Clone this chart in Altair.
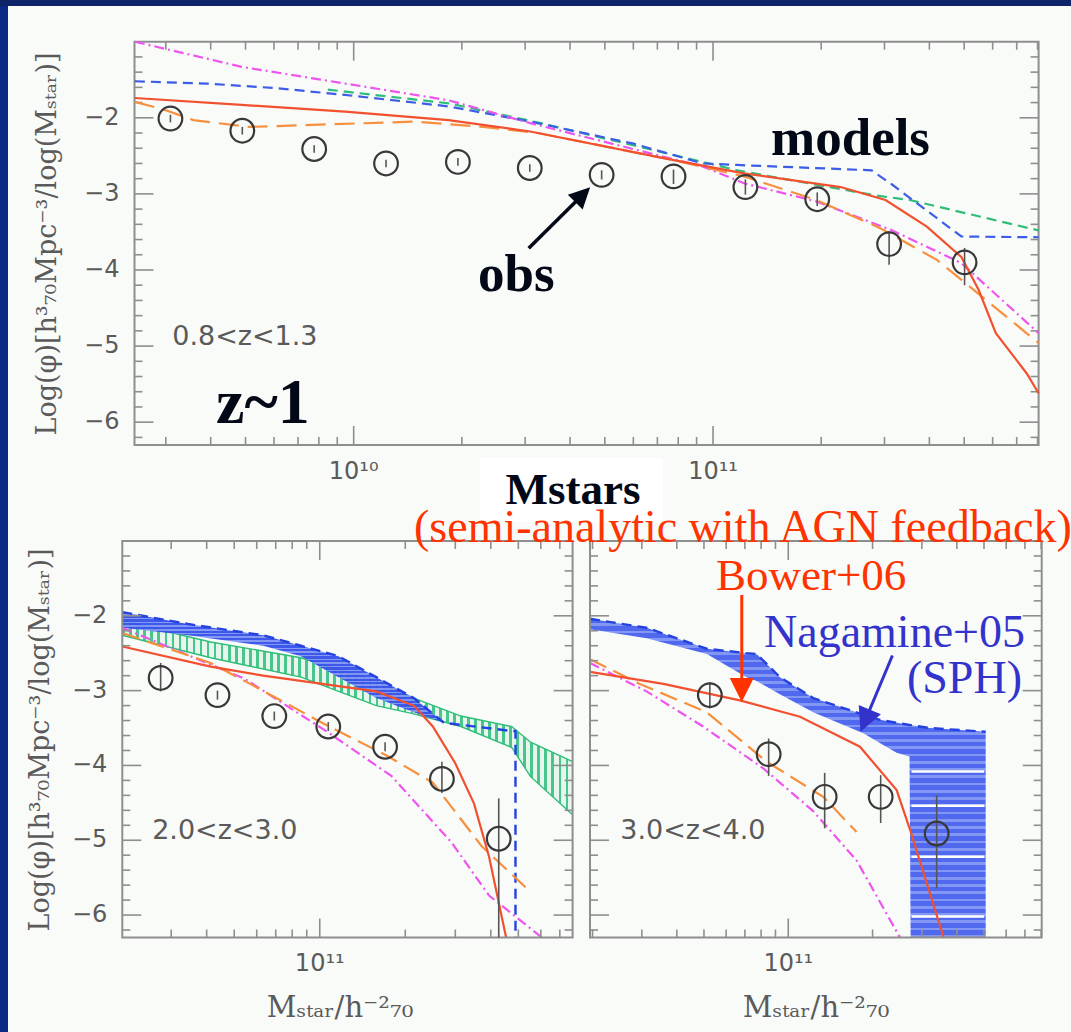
import math
import numpy as np
import pandas as pd
import altair as alt

W, H = 1071, 1032
BG = "#f9fbf9"
AXC = "#8e8e8e"      # frame / tick colour
LBL = "#5a5a5a"      # tick-label colour

RED, ORANGE, MAGENTA = "#f2502f", "#f7903d", "#ee55ee"
BLUE, GREEN = "#3d5ce8", "#2fbd78"

# ---------------- observed mass functions (log M, log phi, error range) -------------
obs_top_m = [9.49, 9.69, 9.89, 10.09, 10.29, 10.49, 10.69, 10.89, 11.09, 11.29, 11.49, 11.70]
obs_top_v = [-2.01, -2.17, -2.41, -2.60, -2.58, -2.66, -2.75, -2.77, -2.91, -3.07, -3.66, -3.90]
obs_top_lo = [-2.06, -2.22, -2.46, -2.65, -2.63, -2.71, -2.81, -2.87, -3.01, -3.16, -3.93, -4.20]
obs_top_hi = [-1.96, -2.12, -2.36, -2.55, -2.53, -2.61, -2.69, -2.68, -2.81, -2.98, -3.49, -3.71]

obs_bl_m = [10.44, 10.64, 10.84, 11.03, 11.23, 11.43, 11.63]
obs_bl_v = [-2.83, -3.06, -3.34, -3.48, -3.75, -4.18, -4.98]
obs_bl_lo = [-3.01, -3.12, -3.40, -3.54, -3.81, -4.37, -6.30]
obs_bl_hi = [-2.63, -3.00, -3.28, -3.42, -3.69, -3.95, -4.44]

obs_br_m = [10.72, 10.93, 11.13, 11.33, 11.53]
obs_br_v = [-3.06, -3.85, -4.42, -4.42, -4.91]
obs_br_lo = [-3.24, -4.14, -4.84, -4.77, -5.64]
obs_br_hi = [-2.89, -3.64, -4.10, -4.13, -4.40]

# ---------------- model curves, 0.8<z<1.3 ----------------
red_top_m = [9.391, 9.688, 9.976, 10.264, 10.491, 10.894, 11.086, 11.355, 11.480, 11.595, 11.691, 11.739, 11.787, 11.873, 11.906]
red_top_v = [-1.74, -1.83, -1.92, -2.03, -2.18, -2.56, -2.73, -2.91, -3.08, -3.43, -3.83, -4.26, -4.83, -5.36, -5.62]
ora_top_m = [9.391, 9.477, 9.554, 9.708, 10.168, 10.360, 10.513, 10.894, 11.086, 11.287, 11.465, 11.624, 11.906]
ora_top_v = [-1.79, -1.90, -2.03, -2.12, -2.05, -2.12, -2.20, -2.56, -2.77, -3.08, -3.45, -3.87, -4.96]
mag_top_m = [9.391, 9.688, 9.976, 10.264, 10.491, 10.971, 11.086, 11.288, 11.499, 11.691, 11.906]
mag_top_v = [-1.00, -1.33, -1.55, -1.77, -2.07, -2.64, -2.86, -3.10, -3.48, -3.91, -4.83]
blu_top_m = [9.391, 9.592, 9.784, 9.976, 10.264, 10.491, 10.779, 10.971, 11.067, 11.441, 11.499, 11.691, 11.906]
blu_top_v = [-1.52, -1.55, -1.61, -1.70, -1.85, -2.05, -2.34, -2.60, -2.62, -2.69, -2.88, -3.56, -3.57]
grn_top_m = [9.928, 10.264, 10.521, 11.067, 11.451, 11.547, 11.906]
grn_top_v = [-1.63, -1.81, -2.07, -2.69, -3.02, -3.08, -3.48]

# ---------------- model curves, 2.0<z<3.0 ----------------
red_bl_m = [10.305, 10.616, 10.801, 11.066, 11.199, 11.331, 11.398, 11.477, 11.543, 11.596, 11.656]
red_bl_v = [-2.41, -2.68, -2.80, -2.94, -3.01, -3.20, -3.48, -3.97, -4.51, -5.22, -6.30]
ora_bl_m = [10.305, 10.616, 10.735, 11.033, 11.232, 11.398, 11.570, 11.742]
ora_bl_v = [-2.23, -2.63, -2.87, -3.48, -3.86, -4.23, -5.08, -5.69]
mag_bl_m = [10.305, 10.735, 11.026, 11.252, 11.464, 11.596, 11.782]
mag_bl_v = [-2.16, -2.84, -3.55, -4.14, -5.03, -5.74, -6.30]
sph_bl_m = [10.305, 10.536, 10.801, 10.934, 11.066, 11.199, 11.331, 11.437]
sph_bl_hi = [-1.95, -2.11, -2.26, -2.40, -2.54, -2.82, -3.10, -3.43]
sph_bl_lo = [-2.16, -2.26, -2.40, -2.54, -2.82, -3.10, -3.29, -3.43]
sph_bl_tail_m = [11.676, 11.689, 11.689]
sph_bl_tail_v = [-3.54, -3.54, -6.30]
grn_bl_m = [10.305, 10.616, 10.934, 11.199, 11.331, 11.497, 11.676, 11.742, 11.890]
grn_bl_hi = [-2.07, -2.35, -2.56, -2.87, -3.10, -3.34, -3.48, -3.69, -3.95]
grn_bl_lo = [-2.26, -2.56, -2.82, -3.20, -3.31, -3.48, -3.76, -4.15, -4.66]

# ---------------- model curves, 3.0<z<4.0 ----------------
red_br_m = [10.292, 10.554, 10.827, 11.042, 11.256, 11.387, 11.435, 11.555]
red_br_v = [-2.75, -2.91, -3.13, -3.35, -3.75, -4.33, -4.86, -6.30]
ora_br_m = [10.292, 10.470, 10.709, 10.923, 11.125, 11.244]
ora_br_v = [-2.58, -2.91, -3.29, -3.95, -4.42, -4.89]
mag_br_m = [10.292, 10.494, 10.696, 10.911, 11.089, 11.244, 11.399]
mag_br_v = [-2.63, -3.01, -3.48, -4.04, -4.61, -5.27, -6.30]
sph_br_m = [10.292, 10.494, 10.709, 10.851, 10.887, 10.970, 11.089, 11.268, 11.327, 11.387, 11.433, 11.437, 11.506, 11.705]
sph_br_hi = [-2.04, -2.16, -2.44, -2.50, -2.51, -2.82, -3.10, -3.32, -3.39, -3.43, -3.46, -3.46, -3.50, -3.55]
sph_br_lo = [-2.18, -2.30, -2.51, -2.82, -2.87, -3.05, -3.29, -3.57, -3.70, -3.83, -3.88, -6.30, -6.30, -6.30]
sph_br_hatch = [-4.08, -4.54, -5.22, -6.02]
sph_br_hatch_span = [11.44, 11.70]

# ---------------- panel geometry ----------------
YD = [-6.3, -1.0]
PANELS = {
    "top": {"xr": [134.5, 1038.6], "yr": [445.0, 41.7], "xd": [9.39, 11.906]},
    "bl": {"xr": [122.3, 572.6], "yr": [937.5, 541.0], "xd": [10.305, 11.89]},
    "br": {"xr": [590.0, 1041.7], "yr": [937.5, 541.0], "xd": [10.292, 11.905]},
}


def ppx(p):
    return (p["xr"][1] - p["xr"][0]) / (p["xd"][1] - p["xd"][0])


def ppy(p):
    return (p["yr"][0] - p["yr"][1]) / (YD[1] - YD[0])


def to_px(p, m, v):
    return (p["xr"][0] + (m - p["xd"][0]) * ppx(p), p["yr"][0] - (v - YD[0]) * ppy(p))


def sx(p):
    return alt.Scale(domain=p["xd"], range=p["xr"], nice=False, zero=False)


def sy(p):
    return alt.Scale(domain=YD, range=p["yr"], nice=False, zero=False)


def ex(p, f="m"):
    return alt.X(f"{f}:Q", scale=sx(p), axis=None)


def ey(p, f="v"):
    return alt.Y(f"{f}:Q", scale=sy(p), axis=None)


def stripes(n, line, gap, frac, vertical):
    """Linear-gradient fill imitating a line hatch (n stripes across the mark)."""
    stops = []
    for i in range(n):
        a, b, c = i / n, (i + frac) / n, (i + 1) / n
        stops += [alt.GradientStop(offset=a, color=line), alt.GradientStop(offset=b, color=line),
                  alt.GradientStop(offset=b, color=gap), alt.GradientStop(offset=c, color=gap)]
    if vertical:
        return alt.LinearGradient(gradient="linear", stops=stops, x1=0, x2=0, y1=0, y2=1)
    return alt.LinearGradient(gradient="linear", stops=stops, x1=0, x2=1, y1=0, y2=0)


ONE = pd.DataFrame({"k": [0]})
layers = []

# ---------------- slide decoration ----------------
layers.append(alt.Chart(ONE).mark_rect(color="#0b2a85").encode(
    x=alt.value(0), x2=alt.value(8), y=alt.value(0), y2=alt.value(H)))
layers.append(alt.Chart(ONE).mark_rect(color="#0d2468").encode(
    x=alt.value(0), x2=alt.value(W), y=alt.value(0), y2=alt.value(6)))
layers.append(alt.Chart(ONE).mark_rect(color="#ffffff").encode(
    x=alt.value(480), x2=alt.value(663), y=alt.value(458), y2=alt.value(522)))


def curve(p, m, v, color, dash=None, width=2.2):
    df = pd.DataFrame({"m": m, "v": v, "i": np.arange(len(m))})
    props = dict(color=color, strokeWidth=width)
    if dash:
        props["strokeDash"] = dash
    return alt.Chart(df).mark_line(**props).encode(x=ex(p), y=ey(p), order="i:Q")


def band(p, m, lo, hi, fill, opacity):
    df = pd.DataFrame({"m": m, "lo": lo, "hi": hi})
    return alt.Chart(df).mark_area(fill=fill, opacity=opacity).encode(
        x=ex(p), y=ey(p, "lo"), y2=alt.Y2("hi:Q"))


def observed(p, m, v, lo, hi):
    df = pd.DataFrame({"m": m, "v": v, "lo": lo, "hi": hi})
    bars = alt.Chart(df).mark_rule(color="#555555", strokeWidth=1.6).encode(
        x=ex(p), y=ey(p, "lo"), y2=alt.Y2("hi:Q"))
    pts = alt.Chart(df).mark_point(shape="circle", filled=False, size=560, strokeWidth=2.2,
                                   color="#383838", opacity=1).encode(x=ex(p), y=ey(p))
    return [bars, pts]


def frame(p, major_len=19, minor_len=8):
    x0, x1 = p["xd"]
    box = alt.Chart(pd.DataFrame({"m": [x0], "m2": [x1], "v": [YD[0]], "v2": [YD[1]]})).mark_rect(
        fillOpacity=0, stroke=AXC, strokeWidth=2).encode(
        x=ex(p), x2=alt.X2("m2:Q"), y=ey(p), y2=alt.Y2("v2:Q"))
    rows = []
    dy_major, dy_minor = major_len / ppy(p), minor_len / ppy(p)
    dx_major, dx_minor = major_len / ppx(p), minor_len / ppx(p)
    # mass ticks: decades and their 2..9 multiples
    for d in range(9, 12):
        for k in range(1, 10):
            t = d + math.log10(k)
            if not (x0 < t < x1):
                continue
            L = dy_major if k == 1 else dy_minor
            rows.append((t, t, YD[0], YD[0] + L))
            rows.append((t, t, YD[1], YD[1] - L))
    # phi ticks every 0.2 dex
    for j in range(-31, -5):
        t = j / 5.0
        if not (YD[0] < t < YD[1]):
            continue
        L = dx_major if j % 5 == 0 else dx_minor
        rows.append((x0, x0 + L, t, t))
        rows.append((x1, x1 - L, t, t))
    tdf = pd.DataFrame(rows, columns=["m", "m2", "v", "v2"])
    ticks = alt.Chart(tdf).mark_rule(color=AXC, strokeWidth=1.6).encode(
        x=ex(p), x2=alt.X2("m2:Q"), y=ey(p), y2=alt.Y2("v2:Q"))
    return [box, ticks]


def y_labels(p, dx):
    df = pd.DataFrame({"v": [-2, -3, -4, -5, -6], "m": [p["xd"][0]] * 5,
                       "t": ["\u22122", "\u22123", "\u22124", "\u22125", "\u22126"]})
    return alt.Chart(df).mark_text(align="right", baseline="middle", dx=dx, font="DejaVu Sans",
                                   fontSize=24, color=LBL).encode(x=ex(p), y=ey(p), text="t:N")


def x_labels(p, decades, dy=26):
    sup = {9: "\u2079", 10: "\u00b9\u2070", 11: "\u00b9\u00b9"}
    df = pd.DataFrame({"m": decades, "v": [YD[0]] * len(decades),
                       "t": ["10" + sup[d] for d in decades]})
    return alt.Chart(df).mark_text(align="center", baseline="middle", dy=dy, font="DejaVu Sans",
                                   fontSize=24, color=LBL).encode(x=ex(p), y=ey(p), text="t:N")


def zlabel(p, m, v, text):
    df = pd.DataFrame({"m": [m], "v": [v], "t": [text]})
    return alt.Chart(df).mark_text(align="left", baseline="middle", font="DejaVu Sans",
                                   fontSize=27, color=LBL).encode(x=ex(p), y=ey(p), text="t:N")


def arrow(p, tail, tip, color, width, head):
    (tx, ty), (hx, hy) = to_px(p, *tail), to_px(p, *tip)
    dx, dy = hx - tx, hy - ty
    ang = math.degrees(math.atan2(dx, -dy)) % 360
    n = math.hypot(dx, dy)
    ex_px, ey_px = hx - dx / n * head * 0.6, hy - dy / n * head * 0.6
    em = p["xd"][0] + (ex_px - p["xr"][0]) / ppx(p)
    ev = YD[0] + (p["yr"][0] - ey_px) / ppy(p)
    df = pd.DataFrame({"m": [tail[0]], "v": [tail[1]], "m2": [em], "v2": [ev],
                       "hm": [tip[0]], "hv": [tip[1]]})
    shaft = alt.Chart(df).mark_rule(color=color, strokeWidth=width).encode(
        x=ex(p), y=ey(p), x2=alt.X2("m2:Q"), y2=alt.Y2("v2:Q"))
    tipm = alt.Chart(df).mark_point(shape="M0,0L0.5,1L-0.5,1Z", filled=True, opacity=1,
                                    size=(2 * head) ** 2, angle=ang, color=color).encode(
        x=ex(p, "hm"), y=ey(p, "hv"))
    return [shaft, tipm]


T, BLp, BRp = PANELS["top"], PANELS["bl"], PANELS["br"]
LONG = [20, 9]
SHORT = [10, 6]
DASHDOT = [10, 4, 2, 4]

# ---- top panel: 0.8<z<1.3 ----
layers += frame(T)
layers += [
    curve(T, grn_top_m, grn_top_v, GREEN, SHORT),
    curve(T, blu_top_m, blu_top_v, BLUE, SHORT),
    curve(T, mag_top_m, mag_top_v, MAGENTA, DASHDOT),
    curve(T, ora_top_m, ora_top_v, ORANGE, LONG),
    curve(T, red_top_m, red_top_v, RED),
]
layers += observed(T, obs_top_m, obs_top_v, obs_top_lo, obs_top_hi)
layers += [y_labels(T, -15), x_labels(T, [10, 11], dy=27), zlabel(T, 9.495, -4.88, "0.8<z<1.3")]

# ---- bottom-left panel: 2.0<z<3.0 ----
layers += [
    band(BLp, grn_bl_m, grn_bl_lo, grn_bl_hi, stripes(64, "#3fc385", "#e6f6ec", 0.38, False), 0.95),
    curve(BLp, grn_bl_m, grn_bl_hi, GREEN, width=1.4),
    curve(BLp, grn_bl_m, grn_bl_lo, GREEN, width=1.4),
    band(BLp, sph_bl_m, sph_bl_lo, sph_bl_hi, stripes(30, "#3551ea", "#7d92f4", 0.6, True), 0.95),
    curve(BLp, sph_bl_m + sph_bl_tail_m, sph_bl_hi + sph_bl_tail_v, "#2442e0", SHORT, 2.4),
    curve(BLp, mag_bl_m, mag_bl_v, MAGENTA, DASHDOT),
    curve(BLp, ora_bl_m, ora_bl_v, ORANGE, [18, 8]),
    curve(BLp, red_bl_m, red_bl_v, RED),
]
layers += frame(BLp)
layers += observed(BLp, obs_bl_m, obs_bl_v, obs_bl_lo, obs_bl_hi)
layers += [y_labels(BLp, -15), x_labels(BLp, [11]), zlabel(BLp, 10.41, -4.87, "2.0<z<3.0")]

# ---- bottom-right panel: 3.0<z<4.0 ----
hatch = pd.DataFrame({"m": [sph_br_hatch_span[0]] * 4, "m2": [sph_br_hatch_span[1]] * 4,
                      "v": sph_br_hatch})
layers += [
    band(BRp, sph_br_m, sph_br_lo, sph_br_hi, stripes(44, "#4761ee", "#7c91f4", 0.62, True), 0.95),
    alt.Chart(hatch).mark_rule(color="#ffffff", strokeWidth=2.5).encode(
        x=ex(BRp), x2=alt.X2("m2:Q"), y=ey(BRp)),
    curve(BRp, sph_br_m[:11] + sph_br_m[12:], sph_br_hi[:11] + sph_br_hi[12:], "#2442e0", SHORT, 2.4),
    curve(BRp, mag_br_m, mag_br_v, MAGENTA, DASHDOT),
    curve(BRp, ora_br_m, ora_br_v, ORANGE, [18, 8]),
    curve(BRp, red_br_m, red_br_v, RED),
]
layers += frame(BRp)
layers += observed(BRp, obs_br_m, obs_br_v, obs_br_lo, obs_br_hi)
layers += [x_labels(BRp, [11]), zlabel(BRp, 10.40, -4.87, "3.0<z<4.0")]

# ---- axis titles ----
YTITLE = "Log(\u03c6)[h\u00b3\u2087\u2080Mpc\u207b\u00b3/log(M\u209b\u209c\u2090\u1d63)]"
XTITLE = "M\u209b\u209c\u2090\u1d63/h\u207b\u00b2\u2087\u2080"


def free_text(text, x, y, size, color, font="DejaVu Serif", weight="normal", align="center",
              baseline="middle", angle=0):
    props = dict(text=text, font=font, fontSize=size, color=color, fontWeight=weight,
                 align=align, baseline=baseline)
    if angle:
        props["angle"] = angle
    return alt.Chart(ONE).mark_text(**props).encode(x=alt.value(x), y=alt.value(y))


layers += [
    free_text(YTITLE, 48, 244, 27, LBL, angle=270),
    free_text(YTITLE, 41, 740, 27, LBL, angle=270),
    free_text(XTITLE, 340, 1008, 29, LBL),
    free_text(XTITLE, 816, 1008, 29, LBL),
]

# ---- annotations ----
SERIF = "Liberation Serif"
INK = "#020816"
ORED = "#ff3300"
NAVY = "#3333cc"
layers += [
    free_text("models", 771, 155, 53, INK, SERIF, "bold", "left", "alphabetic"),
    free_text("obs", 478, 291, 53, INK, SERIF, "bold", "left", "alphabetic"),
    free_text("z~1", 216, 423, 64, INK, SERIF, "bold", "left", "alphabetic"),
    free_text("Mstars", 573, 504, 45, INK, SERIF, "bold", "center", "alphabetic"),
    free_text("(semi-analytic with AGN feedback)", 414, 542, 46, ORED, SERIF, "normal", "left",
              "alphabetic"),
    free_text("Bower+06", 716, 590, 45, ORED, SERIF, "normal", "left", "alphabetic"),
    free_text("Nagamine+05", 1025, 647, 46, NAVY, SERIF, "normal", "right", "alphabetic"),
    free_text("(SPH)", 1022, 693, 46, NAVY, SERIF, "normal", "right", "alphabetic"),
]
layers += arrow(T, (10.487, -3.715), (10.658, -2.914), INK, 3.5, 21)
layers += arrow(BRp, (10.834, -1.722), (10.834, -3.152), ORED, 3.0, 24)
layers += arrow(BRp, (11.372, -2.531), (11.258, -3.549), NAVY, 3.0, 24)

chart = alt.layer(*layers).resolve_scale(x="independent", y="independent").properties(
    width=W, height=H, autosize=alt.AutoSizeParams(type="none"), padding=0, background=BG
).configure_view(stroke=None)

chart.save("out.html", embed_options={"renderer": "svg", "actions": False})
